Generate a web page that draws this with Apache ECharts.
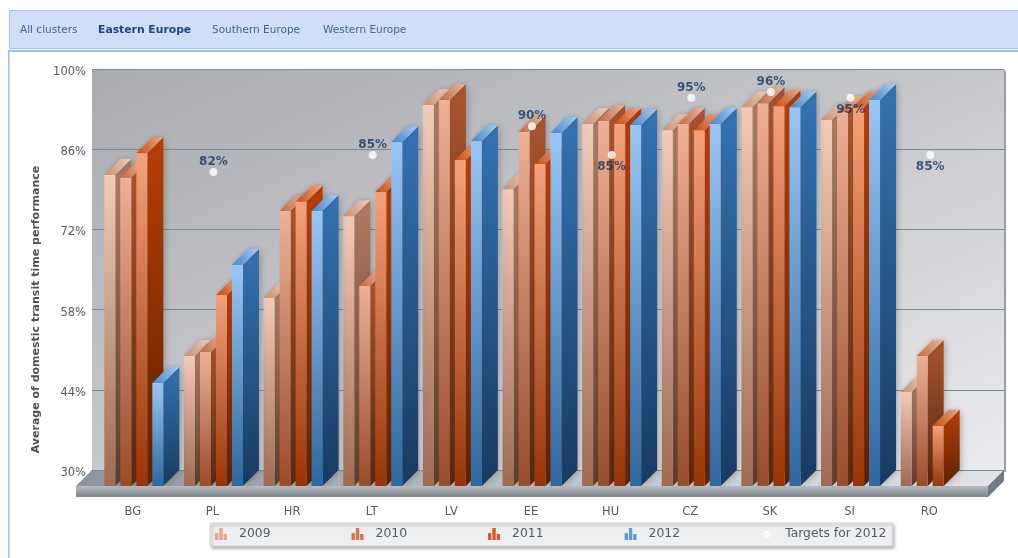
<!DOCTYPE html>
<html><head><meta charset="utf-8">
<style>html,body{margin:0;padding:0;background:#fff}#c{width:1018px;height:558px}</style>
<script src="https://cdn.jsdelivr.net/npm/echarts@6/dist/echarts.min.js"></script>
</head><body><div id="c"></div>
<script>
const categories = ['BG','PL','HR','LT','LV','EE','HU','CZ','SK','SI','RO'];
const y2009 = [84.3,52.7,62.8,77.1,96.5,81.8,93.2,92.1,96.1,93.9,46.4];
const y2010 = [83.8,53.4,78.0,64.9,97.4,91.8,93.7,93.2,96.8,95.3,52.7];
const y2011 = [88.1,63.3,79.6,81.3,86.9,86.2,93.2,92.1,96.3,96.1,40.5];
const y2012 = [48.0,68.6,78.0,90.0,90.2,91.6,93.0,93.2,96.1,97.4,null];
const targets = [null,82,null,85,null,90,85,95,96,95,85];
const targetLabelSide = [null,'top',null,'top',null,'top','bottom','top','top','bottom','bottom'];
const yTicks = [30,44,58,72,86,100];
const tabs = ['All clusters','Eastern Europe','Southern Europe','Western Europe'];
const seriesNames = ['2009','2010','2011','2012'];
const targetName = 'Targets for 2012';
const values = [y2009,y2010,y2011,y2012];

const palette = [
 {front:['#f2cbb9','#a06a52'],side:['#b17c62','#5b3c2c'],top:['#efcfbd','#c88e72'],icon:'#e8a58c'},
 {front:['#eeb096','#9a4c2a'],side:['#a9552f','#552712'],top:['#eab79f','#c06a44'],icon:'#dc6f4e'},
 {front:['#f4a17b','#983505'],side:['#ba3e05','#5c2103'],top:['#efa883','#c54c12'],icon:'#dc5a2a'},
 {front:['#9ac6f6','#2e679e'],side:['#3473b3','#183a60'],top:['#a6cdf6','#4585c8'],icon:'#5c9be0'}
];
const DEPTH = 16, BAR_W = 11, STEP = 16;
const vGrad = c => new echarts.graphic.LinearGradient(0,0,0,1,[{offset:0,color:c[0]},{offset:1,color:c[1]}]);
const dGrad = c => new echarts.graphic.LinearGradient(0,1,1,0,[{offset:0,color:c[1]},{offset:1,color:c[0]}]);

function barRenderer(slot){
  return function(params, api){
    const cat = api.value(0), v = api.value(1);
    const cx = api.coord([cat, v])[0] + (slot-1.5)*STEP;
    const top = api.coord([cat, v])[1] + DEPTH;
    const base = api.coord([cat, yTicks[0]])[1] + DEPTH;
    const l = cx - BAR_W/2, r = cx + BAR_W/2;
    const p = palette[slot];
    return {type:'group', children:[
      {type:'polygon', shape:{points:[[r,top],[r+DEPTH,top-DEPTH],[r+DEPTH,base-DEPTH],[r,base]]},
       style:{fill:vGrad(p.side), shadowBlur:7, shadowColor:'rgba(40,40,40,.35)', shadowOffsetX:1}},
      {type:'polygon', shape:{points:[[l,top],[l+DEPTH,top-DEPTH],[r+DEPTH,top-DEPTH],[r,top]]},
       style:{fill:dGrad(p.top), shadowBlur:4, shadowColor:'rgba(40,40,40,.25)'}},
      {type:'rect', shape:{x:l,y:top,width:BAR_W,height:base-top}, style:{fill:vGrad(p.front)}}
    ]};
  };
}
const barIcon = 'path://M0 5h3.4v7h-3.4z M4.3 0h3.4v12h-3.4z M8.6 6h3.4v6h-3.4z';
const targetIcon = 'path://M0 5.5h12v1h-12z M6 2.5a3.5 3.5 0 1 0 .01 0z';

const series = seriesNames.map((name,slot)=>({
  name, type:'custom', xAxisIndex:1, yAxisIndex:1, z:2+slot,
  itemStyle:{color:palette[slot].icon},
  renderItem:barRenderer(slot), clip:false,
  encode:{x:0,y:1},
  data:values[slot].map((v,i)=>[i,v]).filter(d=>d[1]!==null)
}));
series.push({
  name:targetName, type:'scatter', xAxisIndex:1, yAxisIndex:1, z:20,
  symbol:'circle', symbolSize:8,
  itemStyle:{color:'#ffffff'},
  data:targets.map((v,i)=> v===null?null:({value:[i,v],
    label:{show:true, position:targetLabelSide[i], distance:targetLabelSide[i]==='top'?0:2, formatter:'{@[1]}%',
      color:'#12365f', fontFamily:'DejaVu Sans', fontWeight:'bold', fontSize:12}})).filter(Boolean)
});

const tabX = [20,98,212,323];
const graphic = [
  {type:'rect',z:-20,shape:{x:9.5,y:10.5,width:1009,height:38},style:{fill:'#cfdff5',stroke:'#a2c0ee',lineWidth:1}},
  {type:'rect',z:-20,shape:{x:9,y:50,width:1009,height:2},style:{fill:'#a2c0ee'}},
  {type:'rect',z:-20,shape:{x:8,y:50,width:1.5,height:508},style:{fill:'#a2c0ee'}},
  {type:'rect',z:-20,shape:{x:92,y:69,width:914,height:403,r:[0,4,0,0]},style:{fill:'#9a9ea3'}},
  {type:'rect',z:-19,shape:{x:92,y:69,width:912,height:403},
   style:{fill:new echarts.graphic.LinearGradient(0,0,.327,1.67,[{offset:0,color:'#a9abb0'},{offset:.5,color:'#c6c8cc'},{offset:1,color:'#ebecef'}])}},
  {type:'polygon',z:-18,shape:{points:[[92,470],[1004,470],[988,486],[76,486]]},
   style:{fill:new echarts.graphic.LinearGradient(0,0,1,0,[{offset:0,color:'#8d959c'},{offset:.45,color:'#b9bdc1'},{offset:1,color:'#e2e4e7'}])}},
  {type:'rect',z:-18,shape:{x:76,y:486,width:912,height:11},
   style:{fill:new echarts.graphic.LinearGradient(0,0,0,1,[{offset:0,color:'#b9bec2'},{offset:1,color:'#7b838a'}])}},
  {type:'polygon',z:-18,shape:{points:[[988,486],[1004,470],[1004,481],[988,497]]},style:{fill:'#6f7a82'}}
];
tabs.forEach((t,i)=>graphic.push({type:'text',z:5,x:tabX[i],y:30,style:{
  text:t,fill:i===1?'#1c4587':'#43639a',fontFamily:'DejaVu Sans',
  fontWeight:i===1?'bold':'normal',fontSize:i===1?10.8:10.5,verticalAlign:'middle',align:'left'}}));

const chart = echarts.init(document.getElementById('c'),null,{renderer:'canvas'});
chart.setOption({
  animation:false,
  backgroundColor:'#ffffff',
  graphic,
  grid:[
    {left:92,top:69,width:912,height:401},
    {left:94,top:69,width:876,height:401}
  ],
  xAxis:[
    {gridIndex:0,type:'category',data:categories,show:false},
    {gridIndex:1,type:'category',data:categories,
     axisLine:{show:false},axisTick:{show:false},splitLine:{show:false},
     axisLabel:{margin:36,padding:[0,2,0,0],color:'#555b63',fontFamily:'DejaVu Sans',fontSize:11.5,interval:0}}
  ],
  yAxis:[
    {gridIndex:0,type:'value',min:30,max:100,
     name:'Average of domestic transit time performance',nameLocation:'middle',nameGap:50,
     nameTextStyle:{color:'#4a5058',fontFamily:'DejaVu Sans',fontWeight:'bold',fontSize:11,padding:[0,80,0,0]},
     axisLine:{show:false},axisTick:{show:false,customValues:yTicks},
     axisLabel:{customValues:yTicks,formatter:'{value}%',margin:6,verticalAlign:'top',lineHeight:6,color:'#555b63',fontFamily:'DejaVu Sans',fontSize:11.5},
     splitLine:{show:true,lineStyle:{color:'#7d8897',width:1}}},
    {gridIndex:1,type:'value',min:30,max:100,show:false,splitLine:{show:false}}
  ],
  legend:{
    left:210,top:523,padding:[5,6,6,5],itemGap:81,itemWidth:12,itemHeight:12,
    backgroundColor:'#eeeff1',borderColor:'#d4d6d9',borderWidth:1,
    shadowBlur:3,shadowColor:'rgba(0,0,0,.3)',shadowOffsetX:2,shadowOffsetY:2,
    formatter:n=>'{t|'+n+'}',
    textStyle:{color:'#555b63',fontFamily:'DejaVu Sans',fontSize:12.4,
      rich:{t:{padding:[0,0,0,7],align:'left',color:'#555b63',fontFamily:'DejaVu Sans',fontSize:12.4}}},
    data:seriesNames.map(n=>({name:n,icon:barIcon})).concat([{name:targetName,icon:targetIcon}])
  },
  series
});
</script></body></html>
